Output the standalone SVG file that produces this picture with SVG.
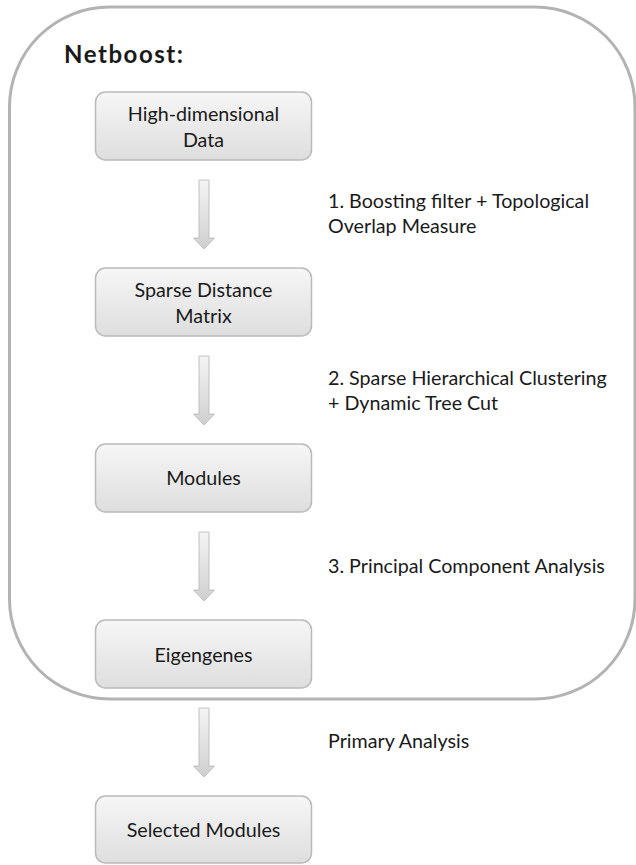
<svg xmlns="http://www.w3.org/2000/svg" width="636" height="865" viewBox="0 0 636 865">
<defs>
<linearGradient id="boxg" x1="0" y1="0" x2="0" y2="1">
<stop offset="0" stop-color="#f6f6f6"/>
<stop offset="1" stop-color="#dedede"/>
</linearGradient>
<linearGradient id="arrg" x1="0" y1="0" x2="0" y2="1">
<stop offset="0" stop-color="#f4f4f4"/>
<stop offset="1" stop-color="#cfcfcf"/>
</linearGradient>
<path id="arrow" d="M-5,0 H5 V58 H10.5 L0,69 L-10.5,58 H-5 Z"/>
</defs>
<style>
.box{fill:url(#boxg);stroke:#bababa;stroke-width:1.5}
.t{font-family:Lato,"Open Sans","Liberation Sans",sans-serif;font-size:19.7px;fill:#1a1a1a}
.c{text-anchor:middle}
.arr{fill:url(#arrg);stroke:#c0c0c0;stroke-width:1}
</style>
<rect id="frame" x="9.5" y="7" width="625.5" height="692" rx="100" ry="100" fill="none" stroke="#b3b3b3" stroke-width="3"/>
<text x="64" y="63" font-family="Lato,'Open Sans','Liberation Sans',sans-serif" font-size="24" font-weight="bold" fill="#1a1a1a" textLength="119" lengthAdjust="spacing">Netboost:</text>
<g id="node-data">
<rect class="box" x="95.5" y="92" width="216" height="68" rx="10"/>
<text class="t c" x="203.5" y="121">High-dimensional</text>
<text class="t c" x="203.5" y="147">Data</text>
</g>
<g id="node-matrix">
<rect class="box" x="95.5" y="268" width="216" height="68" rx="10"/>
<text class="t c" x="203.5" y="297">Sparse Distance</text>
<text class="t c" x="203.5" y="323">Matrix</text>
</g>
<g id="node-modules">
<rect class="box" x="95.5" y="444" width="216" height="68" rx="10"/>
<text class="t c" x="203.5" y="485">Modules</text>
</g>
<g id="node-eigengenes">
<rect class="box" x="95.5" y="620" width="216" height="68" rx="10"/>
<text class="t c" x="203.5" y="662">Eigengenes</text>
</g>
<g id="node-selected">
<rect class="box" x="95.5" y="796" width="216" height="67" rx="10"/>
<text class="t c" x="203.5" y="837">Selected Modules</text>
</g>
<g id="connectors">
<use href="#arrow" class="arr" x="204" y="180"/>
<use href="#arrow" class="arr" x="204" y="356"/>
<use href="#arrow" class="arr" x="204" y="532"/>
<use href="#arrow" class="arr" x="204" y="708"/>
<text class="t" x="328" y="208">1. Boosting filter + Topological</text>
<text class="t" x="328" y="233">Overlap Measure</text>
<text class="t" x="328" y="385">2. Sparse Hierarchical Clustering</text>
<text class="t" x="328" y="410">+ Dynamic Tree Cut</text>
<text class="t" x="328" y="573">3. Principal Component Analysis</text>
<text class="t" x="328" y="748">Primary Analysis</text>
</g>
</svg>
